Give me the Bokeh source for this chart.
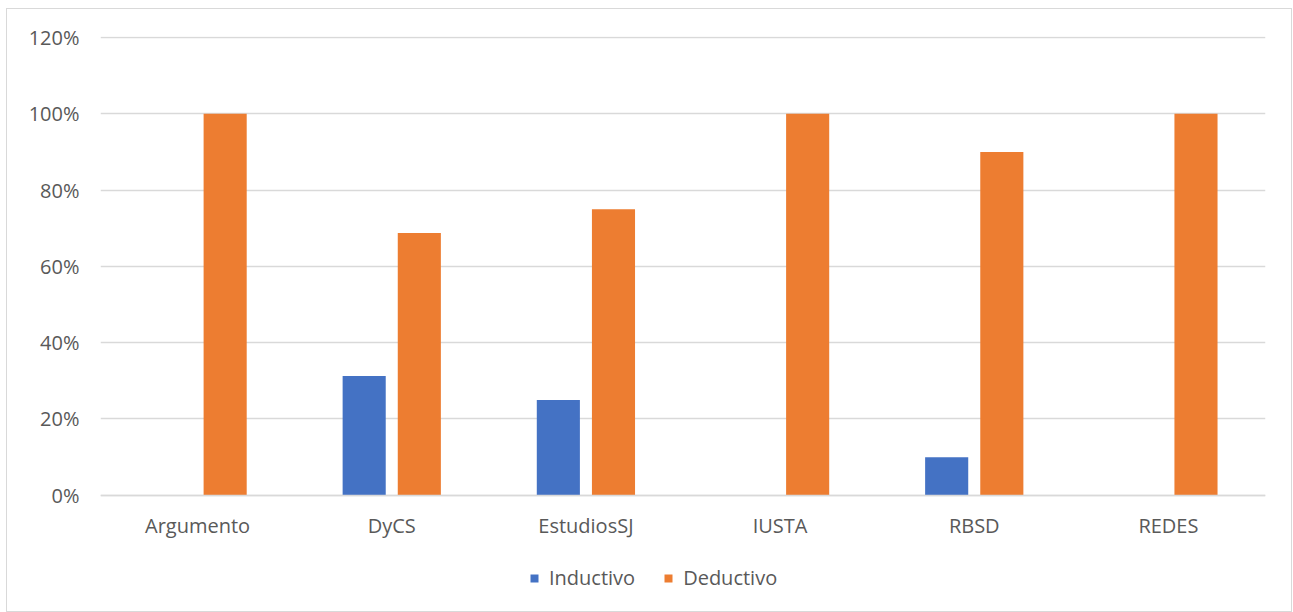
from bokeh.plotting import figure
from bokeh.models import ColumnDataSource, FactorRange, Range1d, Legend, LegendItem, NumeralTickFormatter, FixedTicker
from bokeh.transform import dodge
from bokeh.embed import file_html
from bokeh.resources import INLINE

categories = ["Argumento", "DyCS", "EstudiosSJ", "IUSTA", "RBSD", "REDES"]
inductivo = [0.0, 0.3125, 0.25, 0.0, 0.10, 0.0]
deductivo = [1.0, 0.6875, 0.75, 1.0, 0.90, 1.0]
y_ticks = [0, 0.2, 0.4, 0.6, 0.8, 1.0, 1.2]

src = ColumnDataSource(dict(cat=categories, ind=inductivo, ded=deductivo))

FONT = "Open Sans"
GRAY = "#595959"

p = figure(x_range=FactorRange(*categories, range_padding=0), y_range=Range1d(-0.3099, 1.2026),
           width=1286, height=604, output_backend="svg", toolbar_location=None,
           min_border_left=93, min_border_right=28, min_border_top=27, min_border_bottom=0)
p.margin = (8, 0, 0, 6)
p.styles = {"border": "1px solid #d9d9d9", "box-sizing": "border-box"}
p.outline_line_color = None

r1 = p.vbar(x=dodge("cat", -0.142, range=p.x_range), top="ind", width=0.222, source=src,
            color="#4472C4", line_color=None)
r2 = p.vbar(x=dodge("cat", 0.142, range=p.x_range), top="ded", width=0.222, source=src,
            color="#ED7D31", line_color=None)

p.xgrid.grid_line_color = None
p.ygrid.grid_line_color = "#d9d9d9"
p.ygrid.grid_line_width = 1.5
p.ygrid.ticker = FixedTicker(ticks=y_ticks)

p.yaxis.ticker = FixedTicker(ticks=y_ticks)
p.yaxis.formatter = NumeralTickFormatter(format="0%")
p.yaxis.axis_line_color = None
p.yaxis.major_label_standoff = 21
for ax in (p.xaxis, p.yaxis):
    ax.major_tick_line_color = None
    ax.minor_tick_line_color = None
    ax.major_tick_out = 0
    ax.minor_tick_out = 0
    ax.major_label_text_font = FONT
    ax.major_label_text_font_size = "20px"
    ax.major_label_text_color = GRAY

p.xaxis.fixed_location = 0
p.xaxis.axis_line_color = "#d9d9d9"
p.xaxis.axis_line_width = 1.5
p.xaxis.major_label_standoff = 17

legend = Legend(items=[LegendItem(label="Inductivo", renderers=[r1]),
                       LegendItem(label="Deductivo", renderers=[r2])],
                orientation="horizontal", location=(429, 22),
                glyph_width=10, glyph_height=10, label_standoff=10, spacing=28,
                padding=0, margin=0, border_line_color=None, background_fill_alpha=0,
                label_text_font=FONT, label_text_font_size="20px", label_text_color=GRAY,
                label_height=20)
p.add_layout(legend, "center")

open("out.html", "w").write(file_html(p, INLINE))
